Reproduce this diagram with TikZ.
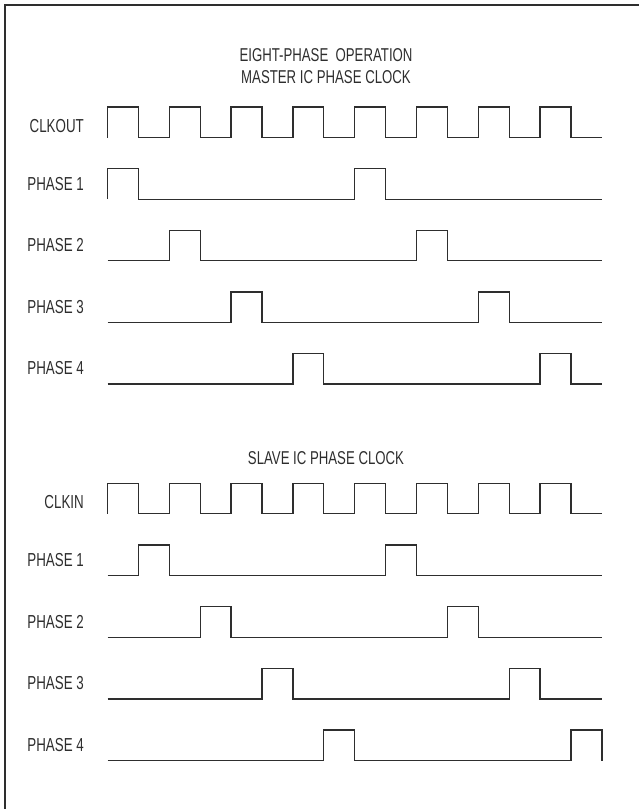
\documentclass[tikz,border=0pt]{standalone}
\usepackage{fontspec}
\newfontfamily\condfont[FakeStretch=0.71]{Liberation Sans}
\usetikzlibrary{positioning}
\definecolor{ink}{gray}{0.18}

\tikzset{
  lbl/.style = {anchor=east, inner sep=0pt, text=ink, font=\condfont\fontsize{18.8}{22}\selectfont},
  ttl/.style = {inner sep=0pt, text=ink, font=\condfont\fontsize{18.6}{22}\selectfont},
  wave/.style = {draw=ink, line width=1.3pt, line join=miter}
}

\begin{document}
\begin{tikzpicture}[x=1pt, y=-1pt]
\useasboundingbox (0,0) rectangle (639,809);
\draw[ink, line width=2pt] (4.7,809) |- (639,5);

% master
\node[ttl] (title) at (326,55) {EIGHT-PHASE~~OPERATION};
\node[ttl, below=8.6pt of title] (mastertl) {MASTER IC PHASE CLOCK};
\node[lbl] (clkout) at (84,126) {CLKOUT};
\draw[wave] (107.5,137.6) foreach \k in {1,...,8} { |- ++(30.9,-30.5) |- ++(30.9,30.5) };
\foreach \i in {1,...,4}{
  \pgfmathsetmacro\yl{137.6+61.6*\i}
  \pgfmathsetmacro\a{2*(\i-1)}
  \node[lbl] (mp\i) at (84,\yl-15.5) {PHASE \i};
  \draw[wave] (107.5,\yl) -- ++(\a*30.9,0) |- ++(30.9,-30.5) |- ++(7*30.9,30.5)
     |- ++(30.9,-30.5) |- ++({(7-\a)*30.9},30.5);
}

% slave
\node[ttl] (slavetl) at (326,458.3) {SLAVE IC PHASE CLOCK};
\node[lbl] (clkin) at (84,502) {CLKIN};
\draw[wave] (107.5,513.8) foreach \k in {1,...,8} { |- ++(30.9,-30.5) |- ++(30.9,30.5) };
\foreach \i in {1,...,4}{
  \pgfmathsetmacro\yl{513.8+61.7*\i}
  \pgfmathsetmacro\a{2*\i-1}
  \node[lbl] (sp\i) at (84,\yl-15.5) {PHASE \i};
  \draw[wave] (107.5,\yl) -- ++(\a*30.9,0) |- ++(30.9,-30.5) |- ++(7*30.9,30.5)
     |- ++(30.9,-30.5) |- ++({(7-\a)*30.9},30.5);
}
\end{tikzpicture}
\end{document}
